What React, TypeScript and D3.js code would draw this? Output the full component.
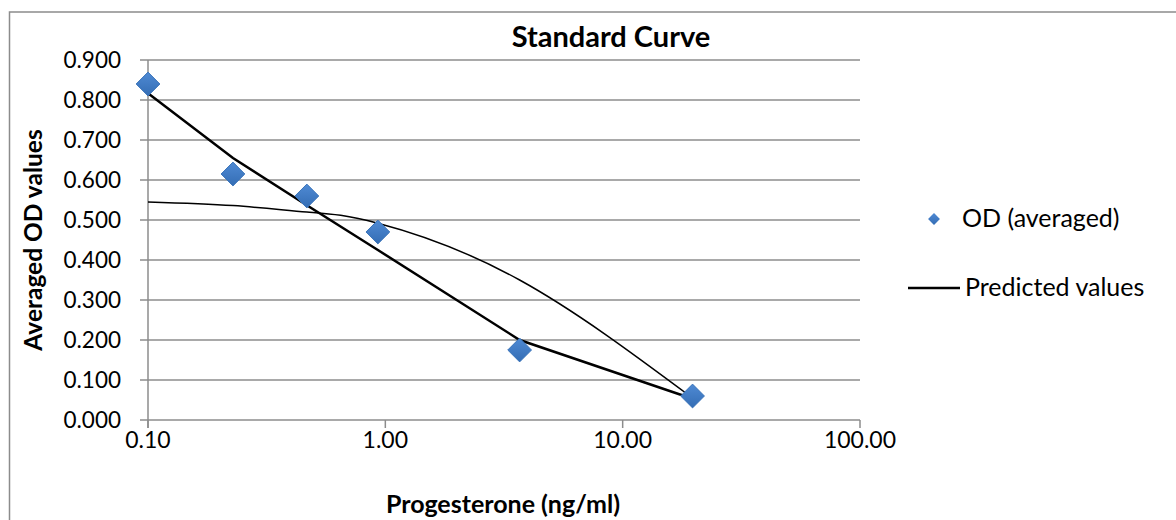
import React, { useEffect, useRef } from "react";
import * as d3 from "d3";

const W = 1176;
const H = 520;

const concentrations = [0.1, 0.228, 0.467, 0.93, 3.68, 19.7];
const odAveraged = [0.84, 0.615, 0.56, 0.47, 0.175, 0.06];
const predicted = [0.817, 0.655, 0.537, 0.425, 0.2, 0.053];
const smoothFit = [0.545, 0.536, 0.52, 0.492, 0.35, 0.055];
const yTicks = [0, 0.1, 0.2, 0.3, 0.4, 0.5, 0.6, 0.7, 0.8, 0.9];
const xTicks = [0.1, 1, 10, 100];
const legendLabels = ["OD (averaged)", "Predicted values"];

const FONT = "Lato, 'Open Sans', sans-serif";
const GRID = "#8c8c8c";

function App() {
  const ref = useRef<SVGSVGElement | null>(null);

  useEffect(() => {
    if (!ref.current) return;
    const svg = d3.select(ref.current);
    svg.selectAll("*").remove();

    const x = d3.scaleLog().domain([0.1, 100]).range([148, 860]);
    const y = d3.scaleLinear().domain([0, 0.9]).range([420, 60]);

    const defs = svg.append("defs");
    const grad = defs
      .append("linearGradient")
      .attr("id", "dia")
      .attr("x1", 0)
      .attr("y1", 0)
      .attr("x2", 0)
      .attr("y2", 1);
    grad.append("stop").attr("offset", "0%").attr("stop-color", "#4f8ad4");
    grad.append("stop").attr("offset", "100%").attr("stop-color", "#346db4");

    // outer frame
    svg
      .append("rect")
      .attr("x", 9.5)
      .attr("y", 12)
      .attr("width", W + 20)
      .attr("height", H + 20)
      .attr("fill", "#fff")
      .attr("stroke", GRID)
      .attr("stroke-width", 1.5);

    // gridlines
    svg
      .append("g")
      .selectAll("line")
      .data(yTicks)
      .enter()
      .append("line")
      .attr("x1", 140)
      .attr("x2", x(100))
      .attr("y1", (d) => y(d))
      .attr("y2", (d) => y(d))
      .attr("stroke", GRID)
      .attr("stroke-width", 1.5);

    // y axis line
    svg
      .append("line")
      .attr("x1", x(0.1))
      .attr("x2", x(0.1))
      .attr("y1", y(0.9))
      .attr("y2", y(0) + 8)
      .attr("stroke", GRID)
      .attr("stroke-width", 1.5);

    // x ticks
    svg
      .append("g")
      .selectAll("line")
      .data(xTicks)
      .enter()
      .append("line")
      .attr("x1", (d) => x(d))
      .attr("x2", (d) => x(d))
      .attr("y1", y(0))
      .attr("y2", y(0) + 8)
      .attr("stroke", GRID)
      .attr("stroke-width", 1.5);

    svg
      .append("g")
      .selectAll("text")
      .data(yTicks)
      .enter()
      .append("text")
      .attr("x", 121)
      .attr("y", (d) => y(d) + 8)
      .attr("text-anchor", "end")
      .attr("font-family", FONT)
      .attr("font-size", 22.5)
      .attr("fill", "#000")
      .text((d) => d3.format(".3f")(d));

    svg
      .append("g")
      .selectAll("text")
      .data(xTicks)
      .enter()
      .append("text")
      .attr("x", (d) => x(d))
      .attr("y", 448)
      .attr("text-anchor", "middle")
      .attr("font-family", FONT)
      .attr("font-size", 23)
      .attr("fill", "#000")
      .text((d) => d3.format(".2f")(d));

    // titles
    svg
      .append("text")
      .attr("x", 611)
      .attr("y", 47)
      .attr("text-anchor", "middle")
      .attr("font-family", FONT)
      .attr("font-weight", 700)
      .attr("font-size", 29)
      .text("Standard Curve");

    svg
      .append("text")
      .attr("x", 503)
      .attr("y", 513)
      .attr("text-anchor", "middle")
      .attr("font-family", FONT)
      .attr("font-weight", 700)
      .attr("font-size", 25)
      .text("Progesterone (ng/ml)");

    svg
      .append("text")
      .attr("transform", "translate(42 240) rotate(-90)")
      .attr("text-anchor", "middle")
      .attr("font-family", FONT)
      .attr("font-weight", 700)
      .attr("font-size", 24.5)
      .text("Averaged OD values");

    const pts = (vals: number[]) =>
      concentrations.map((c, i) => [x(c), y(vals[i])] as [number, number]);

    // smooth fit (thin)
    svg
      .append("path")
      .attr("d", d3.line().curve(d3.curveNatural)(pts(smoothFit)))
      .attr("fill", "none")
      .attr("stroke", "#000")
      .attr("stroke-width", 1.5);

    // predicted values (thick)
    svg
      .append("path")
      .attr("d", d3.line()(pts(predicted)))
      .attr("fill", "none")
      .attr("stroke", "#000")
      .attr("stroke-width", 2.5);

    const diamond = d3.symbol().type(d3.symbolDiamond2).size(360);

    svg
      .append("g")
      .selectAll("path")
      .data(pts(odAveraged))
      .enter()
      .append("path")
      .attr("d", diamond)
      .attr("transform", (d) => `translate(${d[0]} ${d[1]})`)
      .attr("fill", "url(#dia)")
      .attr("stroke", "#3a74ba")
      .attr("stroke-width", 1);

    // legend
    const legend = svg.append("g");
    legend
      .append("path")
      .attr("d", d3.symbol().type(d3.symbolDiamond2).size(90)())
      .attr("transform", "translate(934 219)")
      .attr("fill", "url(#dia)");
    legend
      .append("line")
      .attr("x1", 908)
      .attr("x2", 960)
      .attr("y1", 288)
      .attr("y2", 288)
      .attr("stroke", "#000")
      .attr("stroke-width", 2.5);
    legend
      .selectAll("text")
      .data(legendLabels)
      .enter()
      .append("text")
      .attr("x", (_, i) => (i === 0 ? 962 : 965))
      .attr("y", (_, i) => (i === 0 ? 227 : 296))
      .attr("font-family", FONT)
      .attr("font-size", 25)
      .text((d) => d);
  }, []);

  return (
    <svg
      ref={ref}
      width={W}
      height={H}
      style={{ position: "absolute", left: 0, top: 0 }}
    />
  );
}

export default App;
